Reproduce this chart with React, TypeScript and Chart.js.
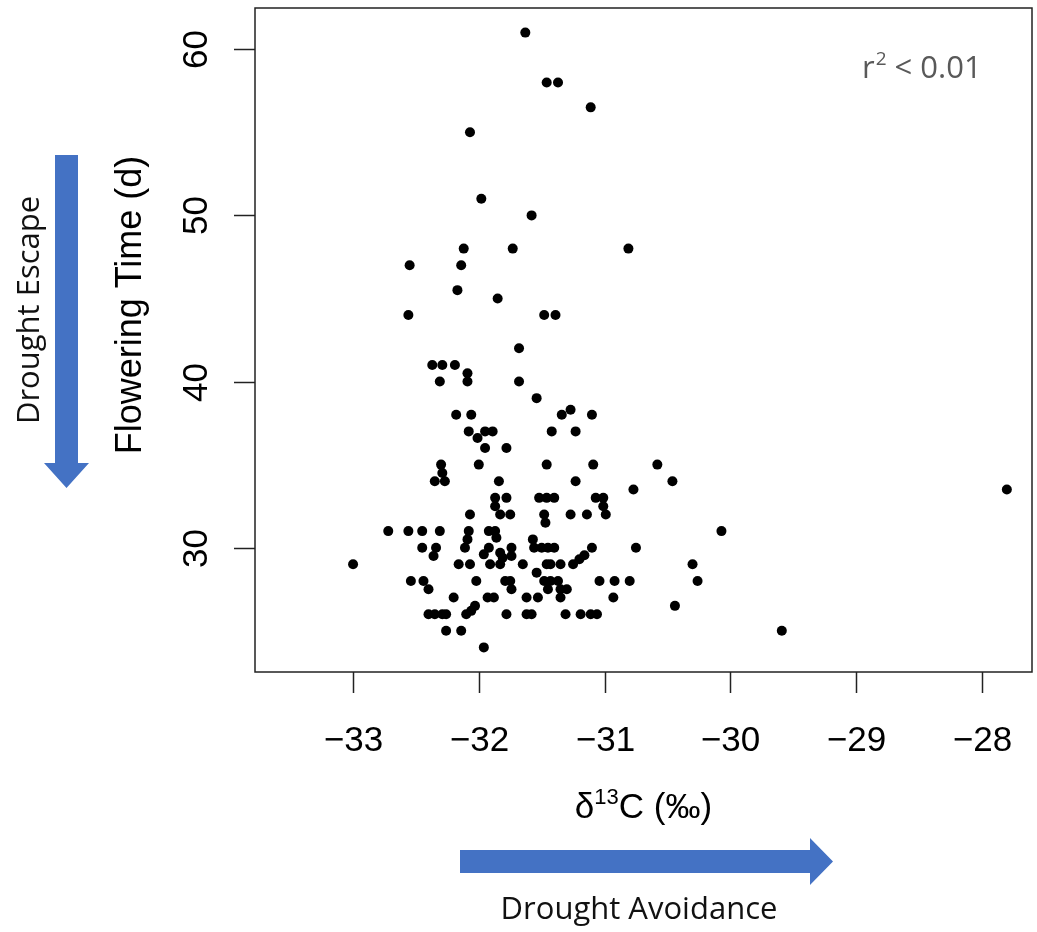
import React, { useEffect, useRef } from "react";
import { Chart, registerables } from "chart.js";

Chart.register(...registerables);

// δ13C (‰) values of each accession
const delta13C: number[] = [
  -31.63, -31.46, -31.37, -31.11, -32.07, -31.98, -31.58, -32.12, -31.73, -30.81,
  -32.55, -32.14, -32.17, -31.85, -32.56, -31.48, -31.39, -31.68, -32.37, -32.29,
  -32.19, -32.09, -32.31, -32.09, -31.68, -31.54, -32.18, -32.06, -31.34, -31.27,
  -31.10, -32.08, -32.01, -31.95, -31.89, -31.42, -31.23, -31.95, -31.78, -32.30,
  -32.0, -31.46, -31.09, -30.58, -32.29, -32.35, -32.27, -31.84, -31.23, -30.46,
  -30.77, -31.87, -31.78, -31.52, -31.46, -31.40, -31.07, -31.01, -31.87, -31.01,
  -31.83, -31.75, -32.07, -31.48, -31.47, -31.27, -31.14, -30.99, -32.72, -32.56,
  -32.45, -32.31, -32.08, -31.92, -31.87, -31.86, -30.07, -31.57, -32.09, -32.45,
  -32.34, -32.36, -32.11, -31.96, -31.92, -31.83, -31.81, -31.74, -31.74, -31.56,
  -31.50, -31.45, -31.40, -31.10, -30.75, -33.0, -32.16, -32.07, -31.91, -31.83,
  -31.65, -31.46, -31.43, -31.35, -31.25, -31.20, -31.16, -30.30, -31.54, -32.54,
  -32.44, -32.40, -32.02, -31.79, -31.75, -31.74, -31.48, -31.43, -31.37, -31.45,
  -31.35, -31.30, -31.35, -31.04, -30.92, -30.80, -30.26, -32.20, -31.93, -31.88,
  -31.62, -31.53, -30.93, -32.03, -32.40, -32.35, -32.29, -32.26, -32.10, -32.06,
  -31.78, -31.62, -31.58, -31.31, -31.19, -31.11, -31.06, -30.44, -32.26, -32.14,
  -29.59, -31.96, -27.80,
];

// Flowering time (days) of each accession, same order
const floweringTime: number[] = [
  61, 58, 58, 56.5, 55, 51, 50, 48, 48, 48,
  47, 47, 45.5, 45, 44, 44, 44, 42, 41, 41,
  41, 40.5, 40, 40, 40, 39, 38, 38, 38, 38.3,
  38, 37, 36.6, 37, 37, 37, 37, 36, 36, 35,
  35, 35, 35, 35, 34.5, 34, 34, 34, 34, 34,
  33.5, 33, 33, 33, 33, 33, 33, 33, 32.5, 32.5,
  32, 32, 32, 32, 31.5, 32, 32, 32, 31, 31,
  31, 31, 31, 31, 31, 30.6, 31, 30.5, 30.5, 30,
  30, 29.5, 30, 29.6, 30, 29.7, 29.4, 30, 29.5, 30,
  30, 30, 30, 30, 30, 29, 29, 29, 29, 29,
  29, 29, 29, 29, 29, 29.3, 29.55, 29, 28.5, 28,
  28, 27.5, 28, 28, 28, 27.5, 28, 28, 28, 27.5,
  27.5, 27.5, 27, 28, 28, 28, 28, 27, 27, 27,
  27, 27, 27, 26.5, 26, 26, 26, 26, 26, 26.2,
  26, 26, 26, 26, 26, 26, 26, 26.5, 25, 25,
  25, 24, 33.5,
];

const xTicks: number[] = [-33, -32, -31, -30, -29, -28];
const yTicks: number[] = [30, 40, 50, 60];
const xTickLabels: string[] = ["\u221233", "\u221232", "\u221231", "\u221230", "\u221229", "\u221228"];
const yTickLabels: string[] = ["30", "40", "50", "60"];
const yTitle = "Flowering Time (d)";
const leftNote = "Drought Escape";
const bottomNote = "Drought Avoidance";
const statNote = "< 0.01";

const SANS = '"Liberation Sans", Arial, sans-serif';
const NOTE = '"Open Sans", "Noto Sans", sans-serif';
const BLUE = "#4472C4";

const overlay = {
  id: "overlay",
  afterDraw(chart: any) {
    const { ctx, chartArea: a } = chart;
    const xs = chart.scales.x;
    const ys = chart.scales.y;
    ctx.save();
    // plot box
    ctx.strokeStyle = "#222";
    ctx.lineWidth = 1.5;
    ctx.strokeRect(a.left, a.top, a.right - a.left, a.bottom - a.top);

    // x ticks + labels
    ctx.fillStyle = "#000";
    ctx.font = `35px ${SANS}`;
    ctx.textAlign = "center";
    ctx.textBaseline = "middle";
    xTicks.forEach((v, i) => {
      const px = Math.round(xs.getPixelForValue(v)) + 0.5;
      ctx.beginPath();
      ctx.moveTo(px, a.bottom);
      ctx.lineTo(px, a.bottom + 21);
      ctx.stroke();
      ctx.fillText(xTickLabels[i], px, a.bottom + 69);
    });

    // y ticks + rotated labels
    yTicks.forEach((v, i) => {
      const py = Math.round(ys.getPixelForValue(v)) + 0.5;
      ctx.beginPath();
      ctx.moveTo(a.left, py);
      ctx.lineTo(a.left - 21, py);
      ctx.stroke();
      ctx.save();
      ctx.translate(a.left - 58, py);
      ctx.rotate(-Math.PI / 2);
      ctx.fillText(yTickLabels[i], 0, 0);
      ctx.restore();
    });

    // y title
    ctx.save();
    ctx.font = `36px ${SANS}`;
    ctx.translate(131, 305);
    ctx.rotate(-Math.PI / 2);
    ctx.fillText(yTitle, 0, 0);
    ctx.restore();

    // x title: δ13C (‰)
    {
      const cx = (a.left + a.right) / 2;
      const cy = 808;
      const big = `35px ${SANS}`;
      const small = `22px ${SANS}`;
      ctx.font = big;
      const w1 = ctx.measureText("\u03B4").width;
      const w3 = ctx.measureText("C (\u2030)").width;
      ctx.font = small;
      const w2 = ctx.measureText("13").width;
      let sx = cx - (w1 + w2 + w3) / 2;
      ctx.textAlign = "left";
      ctx.font = big;
      ctx.fillText("\u03B4", sx, cy);
      sx += w1;
      ctx.font = small;
      ctx.fillText("13", sx, cy - 10);
      sx += w2;
      ctx.font = big;
      ctx.fillText("C (\u2030)", sx, cy);
    }

    // horizontal arrow (Drought Avoidance)
    ctx.fillStyle = BLUE;
    ctx.beginPath();
    ctx.moveTo(460, 850);
    ctx.lineTo(810, 850);
    ctx.lineTo(810, 838);
    ctx.lineTo(833, 861.5);
    ctx.lineTo(810, 885);
    ctx.lineTo(810, 873);
    ctx.lineTo(460, 873);
    ctx.closePath();
    ctx.fill();

    // vertical arrow (Drought Escape)
    ctx.beginPath();
    ctx.moveTo(55, 155);
    ctx.lineTo(78, 155);
    ctx.lineTo(78, 463);
    ctx.lineTo(89, 463);
    ctx.lineTo(66.5, 488);
    ctx.lineTo(44, 463);
    ctx.lineTo(55, 463);
    ctx.closePath();
    ctx.fill();

    // notes
    ctx.fillStyle = "#111";
    ctx.textAlign = "center";
    ctx.font = `31px ${NOTE}`;
    ctx.fillText(bottomNote, 639, 910);
    ctx.save();
    ctx.translate(30, 310);
    ctx.rotate(-Math.PI / 2);
    ctx.fillText(leftNote, 0, 0);
    ctx.restore();

    // r² < 0.01
    ctx.fillStyle = "#595959";
    ctx.textAlign = "left";
    ctx.font = `31px ${NOTE}`;
    ctx.fillText("r", 862, 69);
    const rw = ctx.measureText("r").width;
    ctx.font = `19px ${NOTE}`;
    ctx.fillText("2", 862 + rw + 1, 60);
    const tw = ctx.measureText("2").width;
    ctx.font = `31px ${NOTE}`;
    ctx.fillText(" " + statNote, 862 + rw + tw + 1, 69);

    ctx.restore();
  },
};

export default function App() {
  const ref = useRef<HTMLCanvasElement | null>(null);
  useEffect(() => {
    if (!ref.current) return;
    const points = delta13C.map((x, i) => ({ x, y: floweringTime[i] }));
    const chart = new Chart(ref.current, {
      type: "scatter",
      data: {
        datasets: [
          {
            data: points,
            backgroundColor: "#000",
            borderColor: "#000",
            pointRadius: 5,
            pointHoverRadius: 5,
            borderWidth: 0,
          },
        ],
      },
      options: {
        animation: false,
        responsive: false,
        maintainAspectRatio: false,
        layout: { padding: { left: 255, right: 2, top: 8, bottom: 260 } },
        plugins: { legend: { display: false }, tooltip: { enabled: false } },
        scales: {
          x: { type: "linear", display: false, min: -33.78, max: -27.6 },
          y: { type: "linear", display: false, min: 22.52, max: 62.48 },
        },
      },
      plugins: [overlay],
    });
    return () => chart.destroy();
  }, []);
  return (
    <div style={{ position: "fixed", left: 0, top: 0, width: 1037, height: 932, background: "#fff" }}>
      <canvas ref={ref} width={1037} height={932} style={{ width: 1037, height: 932 }} />
    </div>
  );
}
